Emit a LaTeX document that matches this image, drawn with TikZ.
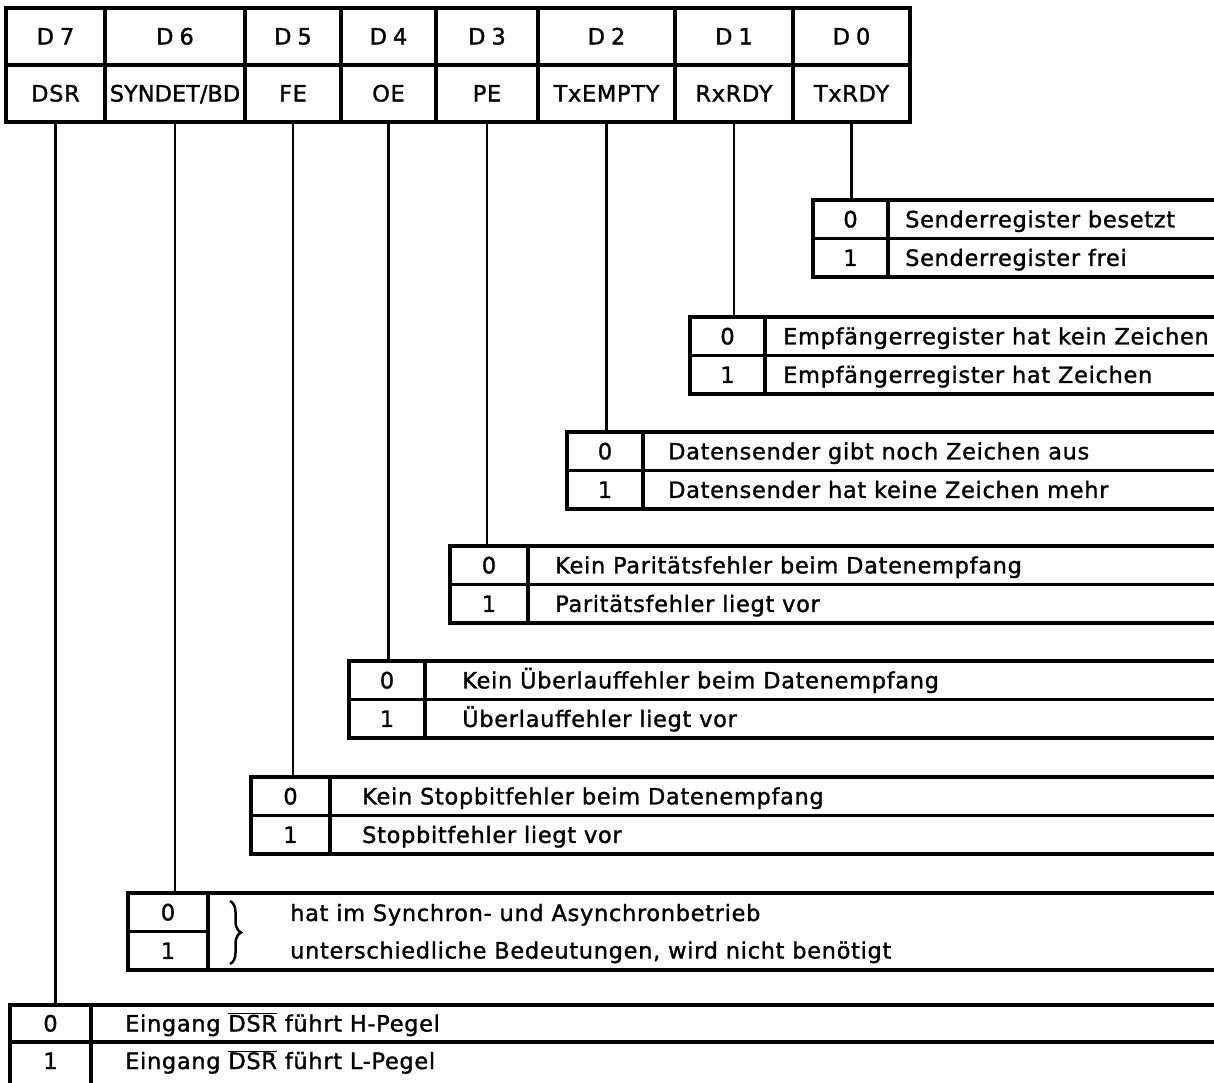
\documentclass[tikz,border=0pt]{standalone}
\usepackage{fontspec}
\setmainfont{DejaVu Sans}[LetterSpace=3,FakeBold=1.3]
\usetikzlibrary{decorations.pathreplacing}
\tikzset{
  frame/.style={line width=3.2pt},
  conn/.style={line width=2.8pt},
  lbl/.style={inner sep=0pt, anchor=base west, font=\fontsize{22.5}{26}\selectfont},
  cen/.style={inner sep=0pt, anchor=base, font=\fontsize{22.5}{26}\selectfont},
  hcell/.style={draw, line width=3.2pt, inner sep=0pt, minimum height=57pt,
    text height=16pt, text depth=0pt, font=\fontsize{22.5}{26}\selectfont}
}
% name, left, top, divider, text x, text row 0, text row 1
\newcommand{\RegBox}[7]{%
  \draw[frame] (#2,#3) rectangle (1225,{#3+77});
  \draw[frame] (#4,#3) -- (#4,{#3+77});
  \draw[frame] (#2,{#3+38.5}) -- (1225,{#3+38.5});
  \coordinate (#1top) at (#2,#3);
  \node[cen] (#1a) at ({(#2+#4)/2},{#3+27.4}) {0};
  \node[cen] (#1b) at ({(#2+#4)/2},{#3+65.9}) {1};
  \node[lbl] (#1c) at (#5,{#3+27.4}) {#6};
  \node[lbl] (#1d) at (#5,{#3+65.9}) {#7};
}
\begin{document}
\begin{tikzpicture}[x=1pt,y=-1pt]
\fill[white] (0,0) rectangle (1214,1082);
\useasboundingbox (0,0) rectangle (1214,1082);

% header table
\node[hcell, minimum width=99pt]  (h7) at (55.5,36.5)  {D\kern6pt7};
\node[hcell, minimum width=140pt] (h6) at (175,36.5)   {D\kern6pt6};
\node[hcell, minimum width=96pt]  (h5) at (293,36.5)   {D\kern6pt5};
\node[hcell, minimum width=95pt]  (h4) at (388.5,36.5) {D\kern6pt4};
\node[hcell, minimum width=102pt] (h3) at (487,36.5)   {D\kern6pt3};
\node[hcell, minimum width=137pt] (h2) at (606.5,36.5) {D\kern6pt2};
\node[hcell, minimum width=118pt] (h1) at (734,36.5)   {D\kern6pt1};
\node[hcell, minimum width=117pt] (h0) at (851.5,36.5) {D\kern6pt0};

\node[hcell, minimum width=99pt]  (s7) at (55.5,93.5)  {DSR};
\node[hcell, minimum width=140pt] (s6) at (175,93.5)   {\addfontfeatures{LetterSpace=0}SYNDET/BD};
\node[hcell, minimum width=96pt]  (s5) at (293,93.5)   {FE};
\node[hcell, minimum width=95pt]  (s4) at (388.5,93.5) {OE};
\node[hcell, minimum width=102pt] (s3) at (487,93.5)   {PE};
\node[hcell, minimum width=137pt] (s2) at (606.5,93.5) {TxEMPTY};
\node[hcell, minimum width=118pt] (s1) at (734,93.5)   {RxRDY};
\node[hcell, minimum width=117pt] (s0) at (851.5,93.5) {TxRDY};

% bit description boxes
\RegBox{b0}{813}{200}{888}{905}{Senderregister besetzt}{Senderregister frei}
\RegBox{b1}{690}{317}{765}{783}{Empfängerregister hat kein Zeichen}{Empfängerregister hat Zeichen}
\RegBox{b2}{567}{432}{643}{668}{Datensender gibt noch Zeichen aus}{Datensender hat keine Zeichen mehr}
\RegBox{b3}{450}{546}{528}{555}{Kein Paritätsfehler beim Datenempfang}{Paritätsfehler liegt vor}
\RegBox{b4}{349}{661}{425}{462}{Kein Überlauffehler beim Datenempfang}{Überlauffehler liegt vor}
\RegBox{b5}{251}{777}{330}{362}{Kein Stopbitfehler beim Datenempfang}{Stopbitfehler liegt vor}

% D6 box
\draw[frame] (128,893) rectangle (1225,970);
\draw[frame] (208,893) -- (208,970);
\draw[frame] (128,931.5) -- (208,931.5);
\coordinate (b6top) at (128,893);
\node[cen] (b6a) at (168,920.4) {0};
\node[cen] (b6b) at (168,958.9) {1};
\draw[line width=2.5pt, decorate, decoration={brace, amplitude=11pt}] (230,901) -- (230,964);
\node[lbl] (b6c) at (290,921) {hat im Synchron- und Asynchronbetrieb};
\node[lbl] (b6d) at (290,958.5) {unterschiedliche Bedeutungen, wird nicht benötigt};

% D7 box (open at bottom)
\draw[frame] (10,1095) -- (10,1005) -- (1225,1005);
\draw[frame] (91,1005) -- (91,1095);
\draw[frame] (10,1042) -- (1225,1042);
\coordinate (b7top) at (10,1005);
\node[cen] (b7a) at (50.5,1031.5) {0};
\node[cen] (b7b) at (50.5,1069) {1};
\node[lbl] (b7c) at (125,1031.5) {Eingang $\overline{\mbox{DSR}}$ führt H-Pegel};
\node[lbl] (b7d) at (125,1069) {Eingang $\overline{\mbox{DSR}}$ führt L-Pegel};

% connectors
\draw[conn] (s0.south) -- (s0.south |- b0top);
\draw[conn] (s1.south) -- (s1.south |- b1top);
\draw[conn] (s2.south) -- (s2.south |- b2top);
\draw[conn] (s3.south) -- (s3.south |- b3top);
\draw[conn] (s4.south) -- (s4.south |- b4top);
\draw[conn] (s5.south) -- (s5.south |- b5top);
\draw[conn] (s6.south) -- (s6.south |- b6top);
\draw[conn] (s7.south) -- (s7.south |- b7top);
\end{tikzpicture}
\end{document}
